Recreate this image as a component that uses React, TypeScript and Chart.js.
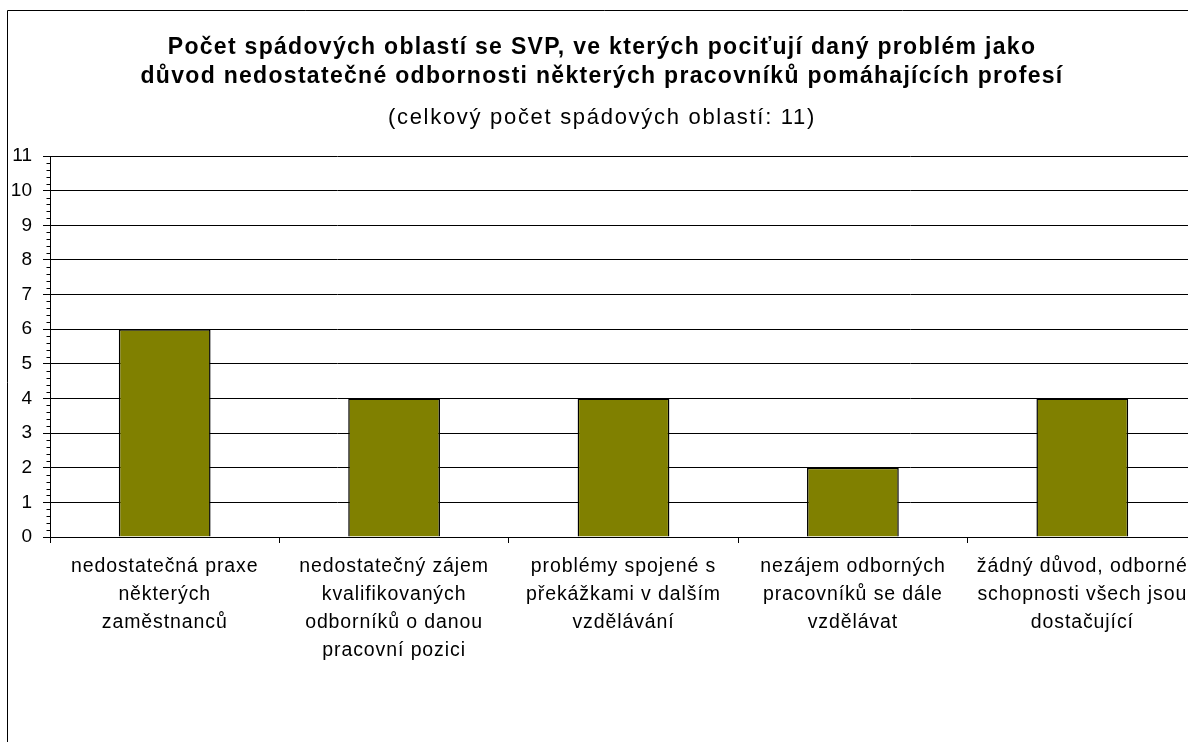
import React, { useEffect, useRef } from "react";
import { Chart, registerables } from "chart.js";

Chart.register(...registerables);

const categories: string[][] = [
  ["nedostatečná praxe", "některých", "zaměstnanců"],
  ["nedostatečný zájem", "kvalifikovaných", "odborníků o danou", "pracovní pozici"],
  ["problémy spojené s", "překážkami v dalším", "vzdělávání"],
  ["nezájem odborných", "pracovníků se dále", "vzdělávat"],
  ["žádný důvod, odborné", "schopnosti všech jsou", "dostačující"],
];
const values: number[] = [6, 4, 4, 2, 4];
const titleLines: string[] = [
  "Počet spádových oblastí se SVP, ve kterých pociťují daný problém jako",
  "důvod nedostatečné odbornosti některých pracovníků pomáhajících profesí",
];
const subtitleText = "(celkový počet spádových oblastí: 11)";
const yMin = 0;
const yMax = 11;

const FONT = "'Liberation Sans', Arial, sans-serif";
const CW = 1194;
const CH = 745;

export default function App() {
  const ref = useRef<HTMLCanvasElement | null>(null);
  useEffect(() => {
    const canvas = ref.current;
    if (!canvas) return;
    const c2d: any = canvas.getContext("2d");
    const origFill = c2d.fillText;
    c2d.fillText = function (t: string, x: number, y: number, mw?: number) {
      const f: string = this.font || "";
      let sp = "0px";
      if (f.indexOf("bold") >= 0) sp = "1.3px";
      else if (f.indexOf("22px") >= 0) sp = "1.7px";
      else if (f.indexOf("19.5px") >= 0) sp = "0.9px";
      const prev = this.letterSpacing;
      this.letterSpacing = sp;
      if (mw === undefined) origFill.call(this, t, x, y);
      else origFill.call(this, t, x, y, mw);
      this.letterSpacing = prev;
    };
    const minorTicks = {
      id: "minorTicks",
      afterDraw(chart: any) {
        const ctx = chart.ctx;
        const ys = chart.scales.y;
        const x0 = Math.round(ys.right) + 0.5;
        ctx.save();
        ctx.strokeStyle = "#000";
        ctx.lineWidth = 1;
        ctx.beginPath();
        for (let i = yMin * 5; i <= yMax * 5; i++) {
          if (i % 5 === 0) continue;
          const y = Math.round(ys.getPixelForValue(i / 5)) + 0.5;
          ctx.moveTo(x0 - 4, y);
          ctx.lineTo(x0, y);
        }
        ctx.stroke();
        ctx.restore();
      },
    };
    const frame = {
      id: "frame",
      afterDraw(chart: any) {
        const ctx = chart.ctx;
        ctx.save();
        ctx.strokeStyle = "#000";
        ctx.lineWidth = 1;
        ctx.beginPath();
        ctx.moveTo(0.5, chart.height);
        ctx.lineTo(0.5, 0.5);
        ctx.lineTo(chart.width, 0.5);
        ctx.stroke();
        ctx.restore();
      },
    };
    const chart = new Chart(canvas, {
      type: "bar",
      data: {
        labels: categories,
        datasets: [
          {
            data: values,
            backgroundColor: "#808000",
            borderColor: "#000",
            borderWidth: 1.5,
            barPercentage: 0.4,
            categoryPercentage: 1,
          },
        ],
      },
      options: {
        responsive: false,
        animation: false,
        devicePixelRatio: 1,
        layout: { padding: { left: 0, right: 4, top: 0, bottom: 0 } },
        plugins: {
          legend: { display: false },
          tooltip: { enabled: false },
          title: {
            display: true,
            text: titleLines,
            color: "#000",
            font: { family: FONT, size: 23, weight: "bold", lineHeight: "29px" },
            padding: { top: 23.5, bottom: 0 },
          },
          subtitle: {
            display: true,
            text: subtitleText,
            color: "#000",
            font: { family: FONT, size: 22, weight: "normal", lineHeight: "26px" },
            padding: { top: 13.5, bottom: 25 },
          },
        },
        scales: {
          x: {
            offset: true,
            grid: {
              offset: true,
              drawOnChartArea: false,
              drawTicks: true,
              tickLength: 6,
              color: "#000",
            },
            border: { display: true, color: "#000", width: 1 },
            ticks: {
              color: "#000",
              font: { family: FONT, size: 19.5, lineHeight: "28px" },
              padding: 10,
              maxRotation: 0,
              minRotation: 0,
              autoSkip: false,
            },
            afterFit(scale: any) {
              scale.height = 218;
              scale.paddingLeft = 0;
              scale.paddingRight = 0;
            },
          },
          y: {
            min: yMin,
            max: yMax,
            ticks: {
              stepSize: 1,
              color: "#000",
              font: { family: FONT, size: 19 },
              padding: 11,
            },
            grid: {
              color: "#000",
              lineWidth: 1,
              tickLength: 7,
              drawTicks: true,
            },
            border: { display: true, color: "#000", width: 1 },
            afterFit(scale: any) {
              scale.width = 43;
            },
          },
        },
      },
      plugins: [minorTicks, frame],
    });
    return () => {
      chart.destroy();
      c2d.fillText = origFill;
    };
  }, []);
  return (
    <div
      style={{
        position: "fixed",
        left: 0,
        top: 0,
        width: 1188,
        height: 742,
        overflow: "hidden",
        background: "#fff",
      }}
    >
      <canvas
        ref={ref}
        width={CW}
        height={CH}
        style={{ position: "absolute", left: 7, top: 10, width: CW, height: CH }}
      />
    </div>
  );
}
